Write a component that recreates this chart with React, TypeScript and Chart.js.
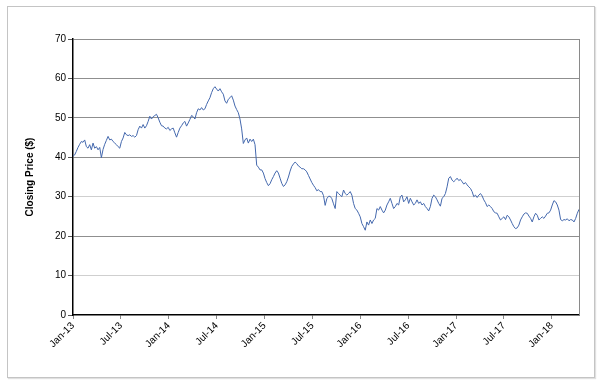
import { useEffect, useRef } from "react";
import { Chart, registerables } from "chart.js";

Chart.register(...registerables);

// Tick labels every six months along the date axis
const tickLabels = ["Jan-13", "Jul-13", "Jan-14", "Jul-14", "Jan-15", "Jul-15", "Jan-16", "Jul-16", "Jan-17", "Jul-17", "Jan-18"];
const MONTHS_PER_TICK = 6;
const DAYS_PER_SAMPLE = 6.37;
const DAYS_PER_MONTH = 30.44;

// Closing prices ($), sampled roughly weekly from Jan-2013
const prices2013to2014 = [
  40.3, 40.6, 41.5, 42.5, 43.3, 44, 43.8, 44.4, 42.7, 42.3,
  43.2, 41.9, 43.6, 42.3, 42.7, 41.9, 42.5, 39.9, 42, 43.3,
  44.3, 45.3, 44.4, 44.6, 44, 43.6, 43.2, 42.7, 42.3, 44,
  44.9, 46.3, 45.7, 45.5, 45.7, 45.3, 45.5, 45.1, 45.5, 47,
  47.9, 47.4, 48.3, 47.4, 48, 49.1, 50.4, 49.7, 50.3, 50.6,
  50.9, 50, 48.9, 48, 47.9, 47.4, 47.2, 47.6, 46.8, 47.2,
  47.4, 46.2, 45.1, 46.3, 47.4, 48, 48.7, 49.1, 47.9, 48.7,
  49.6, 50.6, 50.3, 49.7, 51.3, 52.3, 52, 52.6, 52,
];
const prices2014to2015 = [
  52.3, 53.4, 54.3, 55.1, 56.4, 57.4, 57.9, 57.3, 56.8, 57.4,
  56.6, 56, 54.3, 53.7, 54.7, 55.1, 55.6, 54.5, 53, 52.1,
  51.3, 49.7, 47.2, 43.5, 44.4, 44.9, 43.6, 44.6, 44, 44.6,
  43.2, 38, 37.5, 36.8, 36.8, 36, 34.6, 33.6, 32.8, 33.3,
  34.3, 35.1, 36, 36.6, 36, 34.7, 33.4, 32.6, 33, 33.8,
  35, 36.5, 37.7, 38.3, 38.8, 38.4, 37.8, 37.5, 37.1, 37.1,
  36.8, 36.3, 35.4, 34.5, 33.6, 32.9, 32.3, 31.5, 31.8, 31.3,
  31.3, 30.3, 27.8, 29.5, 30.1, 30.1, 29.5, 28.2,
];
const prices2015to2017 = [
  27, 31.3, 30.8, 30.4, 30, 31.7, 30.8, 30.4, 30.8, 31.3,
  30.4, 28.3, 27, 26.6, 25.8, 24.9, 23.2, 22.4, 21.5, 23.6,
  22.8, 24.1, 23.2, 24.1, 24.5, 27, 26.6, 27.5, 26.6, 25.9,
  26.6, 27.9, 28.7, 29.6, 28.3, 27, 27.5, 28.3, 27.9, 30,
  30.4, 28.7, 29.2, 30, 28.3, 29.6, 28.7, 27.9, 28.3, 29.2,
  28.3, 28.7, 27.9, 28.3, 27.5, 27, 26.4, 27.5, 29.6, 30.4,
  30, 29.2, 28.3, 27.6, 29.6, 30, 30.8, 32.5, 34.7, 35.1,
  34.2, 33.8, 34.2, 34.7, 34.1, 34.4, 33.8, 33.2,
];
const prices2017to2018 = [
  33.6, 33, 32.5, 32.1, 31.3, 30, 30.4, 29.8, 30.4, 30.8,
  30.2, 29.2, 28.5, 27.5, 27.9, 27.5, 27, 26.2, 25.9, 25.8,
  24.9, 24.1, 24.5, 24.9, 24.2, 25.3, 24.9, 24.1, 23.2, 22.4,
  21.9, 22.1, 22.8, 24.1, 24.9, 25.6, 25.9, 25.8, 25.1, 24.5,
  23.6, 24.9, 25.8, 25.3, 24.1, 24.5, 24.9, 24.5, 25.1, 25.8,
  25.9, 26.6, 27.9, 29, 28.7, 27.9, 26.6, 24.2, 23.9, 24.2,
  24.1, 24.4, 23.9, 24.2, 24.1, 23.6, 24.5, 25.8, 26.8,
];

const closingPrices = [...prices2013to2014, ...prices2014to2015, ...prices2015to2017, ...prices2017to2018];

const Y_MIN = 0;
const Y_MAX = 70;
const Y_STEP = 10;
// gridlines that render lighter in the reference
const lightGridValues = [10, 30];

const frame = {
  id: "frame",
  afterDraw(chart: any) {
    const { ctx, chartArea } = chart;
    ctx.save();
    ctx.strokeStyle = "#8a8a8a";
    ctx.lineWidth = 1;
    ctx.beginPath();
    ctx.moveTo(Math.round(chartArea.right) + 0.5, chartArea.top);
    ctx.lineTo(Math.round(chartArea.right) + 0.5, chartArea.bottom);
    ctx.stroke();
    ctx.restore();
  },
};

export default function App() {
  const ref = useRef<HTMLCanvasElement | null>(null);

  useEffect(() => {
    if (!ref.current) return;
    const points = closingPrices.map((v, i) => ({ x: (i * DAYS_PER_SAMPLE) / DAYS_PER_MONTH, y: v }));
    const lastX = points[points.length - 1].x;
    const font = { family: "'Liberation Sans', Arial, sans-serif", size: 10 };
    const chart = new Chart(ref.current, {
      type: "line",
      data: {
        datasets: [
          {
            data: points,
            borderColor: "#4468ad",
            borderWidth: 1,
            pointRadius: 0,
            tension: 0,
            fill: false,
          },
        ],
      },
      options: {
        responsive: false,
        animation: false,
        devicePixelRatio: 1,
        layout: { padding: { left: 0, right: 25, top: 39, bottom: 0 } },
        plugins: { legend: { display: false }, tooltip: { enabled: false } },
        scales: {
          x: {
            type: "linear",
            min: 0,
            max: lastX,
            afterFit: (s: any) => {
              s.height = 73;
            },
            afterBuildTicks: (s: any) => {
              s.ticks = tickLabels.map((_, i) => ({ value: i * MONTHS_PER_TICK }));
            },
            ticks: {
              autoSkip: false,
              minRotation: 45,
              maxRotation: 45,
              padding: 1,
              color: "#000",
              font,
              callback: (v: any) => tickLabels[Math.round(Number(v) / MONTHS_PER_TICK)] ?? "",
            },
            grid: {
              drawOnChartArea: false,
              drawTicks: true,
              tickLength: 4,
              tickColor: "#888",
            },
            border: { display: true, color: "#000", width: 1.5 },
          },
          y: {
            min: Y_MIN,
            max: Y_MAX,
            afterFit: (s: any) => {
              s.width = 73;
            },
            ticks: { stepSize: Y_STEP, padding: 2, color: "#000", font },
            grid: {
              color: (c: any) => {
                const v = c.tick ? c.tick.value : -1;
                if (v === 0) return "rgba(0,0,0,0)";
                return lightGridValues.includes(v) ? "#cfcfcf" : "#8f8f8f";
              },
              tickColor: "#555",
              tickLength: 5,
              lineWidth: 1,
            },
            border: { display: true, color: "#000", width: 1.5 },
            title: {
              display: true,
              text: "Closing Price ($)",
              color: "#000",
              font: { family: "'Liberation Sans', Arial, sans-serif", size: 10, weight: "bold" },
              padding: { top: 24, bottom: 0 },
            },
          },
        },
      },
      plugins: [frame],
    });
    return () => chart.destroy();
  }, []);

  return (
    <div style={{ position: "absolute", left: 0, top: 0, width: 604, height: 388, background: "#fff" }}>
      <div
        style={{
          position: "absolute",
          left: 7,
          top: 6,
          width: 588,
          height: 372,
          boxSizing: "border-box",
          border: "1px solid #c4c4c4",
          boxShadow: "1px 1px 1px #e0e0e0",
        }}
      />
      <canvas ref={ref} width={604} height={388} style={{ position: "absolute", left: 0, top: 0 }} />
    </div>
  );
}
